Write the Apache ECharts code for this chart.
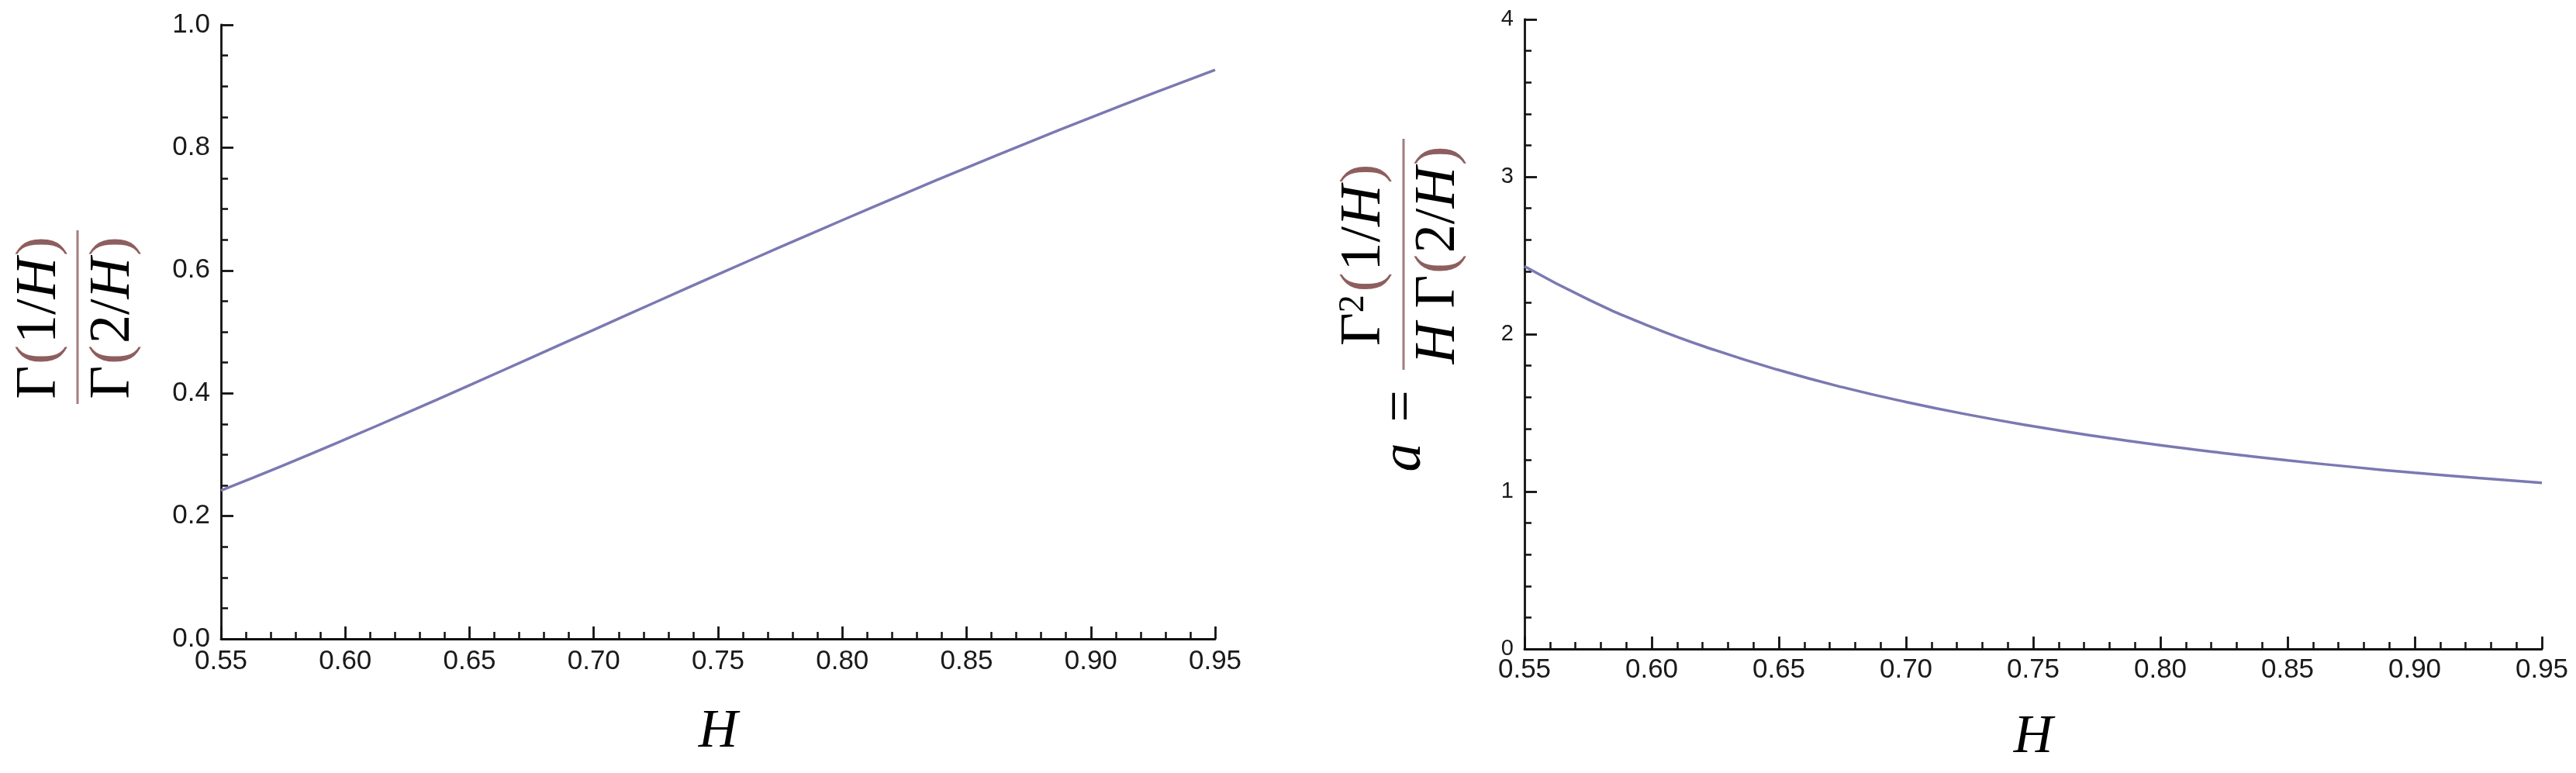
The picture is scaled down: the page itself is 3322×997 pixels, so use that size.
<!DOCTYPE html>
<html>
<head>
<meta charset="utf-8">
<script src="https://cdn.jsdelivr.net/npm/echarts@6/dist/echarts.min.js"></script>
<style>
html,body{margin:0;padding:0;background:#fff;}
#chart{width:3322px;height:997px;}
</style>
</head>
<body>
<div id="chart"></div>
<script>
// ---- data ----
const hValues = [0.55,0.575,0.6,0.625,0.65,0.675,0.7,0.725,0.75,0.775,0.8,0.825,0.85,0.875,0.9,0.925,0.95];
const gammaRatio = [0.2417,0.2825,0.3249,0.3686,0.4131,0.4582,0.5034,0.5486,0.5935,0.6380,0.6818,0.7250,0.7673,0.8086,0.8490,0.8884,0.9267];
const aValues = [2.431,2.221,2.045,1.898,1.772,1.663,1.569,1.487,1.415,1.351,1.294,1.244,1.198,1.157,1.119,1.086,1.055];
const xTicks = [0.55,0.60,0.65,0.70,0.75,0.80,0.85,0.90,0.95];
const leftYTicks = [0.0,0.2,0.4,0.6,0.8,1.0];
const rightYTicks = [0,1,2,3,4];

// ---- styling ----
const LINE = '#7B79B2';
const AX = '#111';
const PAREN = '#8E5E5E';
const BAR = '#A47C7C';
const SERIF = '"Liberation Serif", "DejaVu Serif", serif';
const SANS = '"Liberation Sans", Arial, sans-serif';
const TF = 74;

function xAxisCfg(grid, nameGap, labelMargin) {
  return {
    gridIndex: grid, type: 'value',
    min: xTicks[0], max: xTicks[xTicks.length-1], interval: 0.05,
    axisLine: {show: true, onZero: false, lineStyle: {color: AX, width: 2.8}},
    axisTick: {show: true, inside: true, length: 16, lineStyle: {color: AX, width: 2.8}},
    minorTick: {show: true, splitNumber: 5, length: 9, lineStyle: {color: AX, width: 2.5}},
    splitLine: {show: false}, minorSplitLine: {show: false},
    axisLabel: {formatter: v => v.toFixed(2), fontSize: 35, fontFamily: SANS, color: '#1a1a1a', margin: labelMargin},
    name: 'H', nameLocation: 'middle', nameGap: nameGap,
    nameTextStyle: {fontFamily: SERIF, fontStyle: 'italic', fontSize: 70, color: '#000'}
  };
}
function yAxisCfg(grid, ticks, interval, minorSplit, fmt, fs) {
  return {
    gridIndex: grid, type: 'value',
    min: ticks[0], max: ticks[ticks.length-1], interval: interval,
    axisLine: {show: true, onZero: false, lineStyle: {color: AX, width: 2.8}},
    axisTick: {show: true, inside: true, length: 16, lineStyle: {color: AX, width: 2.8}},
    minorTick: {show: true, splitNumber: minorSplit, length: 9, lineStyle: {color: AX, width: 2.5}},
    splitLine: {show: false}, minorSplitLine: {show: false},
    axisLabel: {formatter: fmt, fontSize: fs, fontFamily: SANS, color: '#1a1a1a', margin: 14}
  };
}

const rich = {
  g: {fontFamily: SERIF, fontSize: TF, fill: '#000'},
  p: {fontFamily: SERIF, fontSize: TF, fill: PAREN, padding: [0, 2]},
  n: {fontFamily: SERIF, fontSize: TF, fill: '#000'},
  i: {fontFamily: SERIF, fontSize: TF, fontStyle: 'italic', fill: '#000'},
  s: {fontFamily: SERIF, fontSize: 46, fill: '#000', verticalAlign: 'top', padding: [0, 2, 0, 0]}
};
function txt(x, y, text) {
  return {type: 'text', x: x, y: y, style: {text: text, rich: rich, align: 'center', verticalAlign: 'middle', font: TF + 'px ' + SERIF}};
}

const chart = echarts.init(document.getElementById('chart'), null, {renderer: 'canvas'});
chart.setOption({
  backgroundColor: '#fff',
  animation: false,
  grid: [
    {left: 285, top: 32, width: 1282, height: 792, containLabel: false, outerBoundsMode: 'none'},
    {left: 1966, top: 25, width: 1312, height: 812, containLabel: false, outerBoundsMode: 'none'}
  ],
  xAxis: [xAxisCfg(0, 86, 12), xAxisCfg(1, 80, 10)],
  yAxis: [
    yAxisCfg(0, leftYTicks, 0.2, 4, v => v.toFixed(1), 35),
    yAxisCfg(1, rightYTicks, 1, 5, v => String(Math.round(v)), 29)
  ],
  series: [
    {type: 'line', xAxisIndex: 0, yAxisIndex: 0, smooth: true, showSymbol: false, silent: true,
     lineStyle: {color: LINE, width: 3.5}, data: hValues.map((h, k) => [h, gammaRatio[k]])},
    {type: 'line', xAxisIndex: 1, yAxisIndex: 1, smooth: true, showSymbol: false, silent: true,
     lineStyle: {color: LINE, width: 3.5}, data: hValues.map((h, k) => [h, aValues[k]])}
  ],
  graphic: [
    {type: 'group', x: 100, y: 409, rotation: Math.PI / 2, children: [
      {type: 'rect', shape: {x: -112, y: -1.5, width: 224, height: 3}, style: {fill: BAR}},
      txt(0, -48, '{g|Γ}{p|(}{n|1/}{i|H}{p|)}'),
      txt(0, 47, '{g|Γ}{p|(}{n|2/}{i|H}{p|)}')
    ]},
    {type: 'group', x: 1810, y: 328, rotation: Math.PI / 2, children: [
      {type: 'rect', shape: {x: -149, y: -1.5, width: 298, height: 3}, style: {fill: BAR}},
      txt(0, -50, '{g|Γ}{s|2}{p|(}{n|1/}{i|H}{p|)}'),
      txt(0, 46, '{i|H} {g|Γ}{p|(}{n|2/}{i|H}{p|)}'),
      txt(-196, 0, '{n|=}'),
      txt(-262, 2, '{i|a}')
    ]}
  ]
});
</script>
</body>
</html>
